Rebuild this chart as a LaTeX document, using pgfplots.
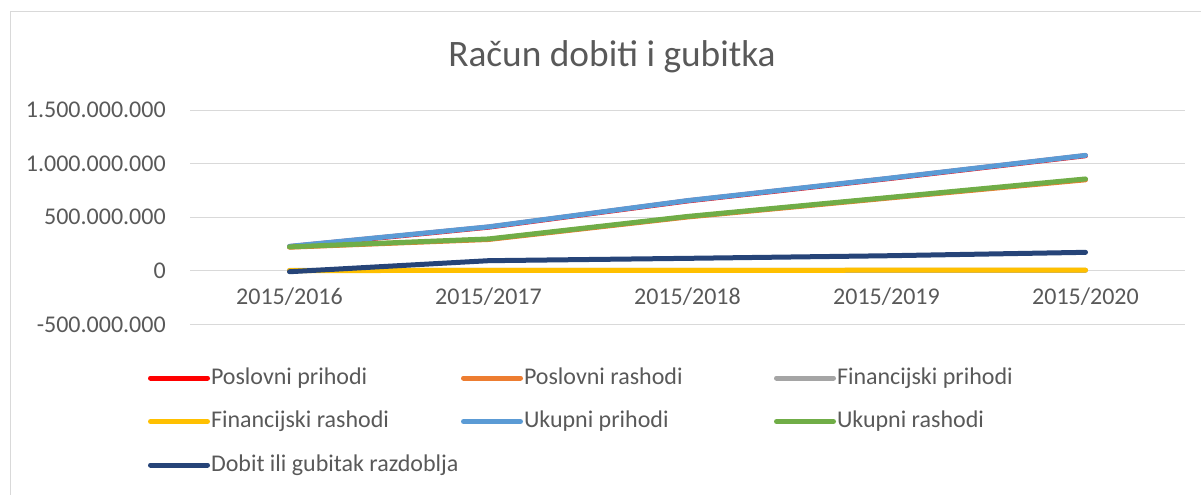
\documentclass[border=0pt]{standalone}
\usepackage{pgfplots}
\pgfplotsset{compat=1.18}
\usepackage{fontspec}
\setmainfont{Carlito}
\definecolor{txt}{HTML}{595959}
\definecolor{gridc}{HTML}{D9D9D9}
\definecolor{framec}{HTML}{D9D9D9}
\definecolor{cRed}{HTML}{FF0000}
\definecolor{cOrange}{HTML}{ED7D31}
\definecolor{cGray}{HTML}{A5A5A5}
\definecolor{cYellow}{HTML}{FFC000}
\definecolor{cBlue}{HTML}{5B9BD5}
\definecolor{cGreen}{HTML}{70AD47}
\definecolor{cDark}{HTML}{264478}
\newcommand\LE[1]{\makebox[188.25pt][l]{\hspace{0.75pt}#1}}
\begin{document}
\begin{tikzpicture}
\useasboundingbox (0,0) rectangle (900.75pt,371.25pt);
\draw[framec, line width=0.75pt] (7.5pt,0) -- (7.5pt,362.25pt) -- (900.75pt,362.25pt);
\node[anchor=base, font=\fontsize{28}{32}\selectfont, text=txt, inner sep=0pt] at (459pt,321pt) {Račun dobiti i gubitka};
\begin{axis}[
  at={(142.5pt,128pt)}, anchor=south west,
  scale only axis, width=746.25pt, height=160.7pt,
  xmin=-0.5, xmax=4.5, ymin=-500000000, ymax=1500000000,
  scaled y ticks=false,
  xtick={0,1,2,3,4},
  xticklabels={2015/2016,2015/2017,2015/2018,2015/2019,2015/2020},
  ytick={-500000000,0,500000000,1000000000,1500000000},
  yticklabels={-500.000.000,0,500.000.000,1.000.000.000,1.500.000.000},
  axis line style={draw=none}, major tick length=0pt,
  ymajorgrids, major grid style={gridc, line width=0.75pt},
  tick label style={font=\fontsize{18}{21}\selectfont, text=txt, inner sep=0pt},
  yticklabel style={anchor=east, xshift=-18pt},
  xticklabel style={anchor=base, yshift=14.5pt},
  legend columns=3,
  legend cell align=left,
  legend style={draw=none, fill=none, at={(axis description cs:-0.0422,-0.198)}, anchor=north west,
    inner sep=0pt, outer sep=0pt, column sep=0pt, row sep=15.6pt,
    nodes={inner sep=0pt, text height=13pt, text depth=4pt, font=\fontsize{18}{21}\selectfont, text=txt}},
  legend image code/.code={\path (0pt,0pt) -- (42.75pt,0pt); \draw[#1, line width=3.75pt, line cap=round] (1.875pt,0pt) -- (39.5pt,0pt);},
  every axis plot/.append style={line width=3.75pt, line cap=round, line join=round, mark=none},
  clip=false,
]
\addplot[cRed] coordinates {(0,225000000) (1,407000000) (2,652000000) (3,858000000) (4,1074000000)};
\addlegendentry{\LE{Poslovni prihodi}}
\addplot[cOrange] coordinates {(0,220000000) (1,292000000) (2,502000000) (3,677000000) (4,849000000)};
\addlegendentry{\LE{Poslovni rashodi}}
\addplot[cGray] coordinates {(0,3000000) (1,4000000) (2,4000000) (3,4000000) (4,4000000)};
\addlegendentry{\LE{Financijski prihodi}}
\addplot[cYellow] coordinates {(0,2000000) (1,3000000) (2,4000000) (3,5000000) (4,6000000)};
\addlegendentry{\LE{Financijski rashodi}}
\addplot[cBlue] coordinates {(0,228000000) (1,410000000) (2,655000000) (3,861000000) (4,1077000000)};
\addlegendentry{\LE{Ukupni prihodi}}
\addplot[cGreen] coordinates {(0,223000000) (1,297000000) (2,507000000) (3,682000000) (4,857000000)};
\addlegendentry{\LE{Ukupni rashodi}}
\addplot[cDark] coordinates {(0,-9000000) (1,94000000) (2,116000000) (3,140000000) (4,172000000)};
\addlegendentry{\LE{Dobit ili gubitak razdoblja}}
\end{axis}
\end{tikzpicture}
\end{document}
